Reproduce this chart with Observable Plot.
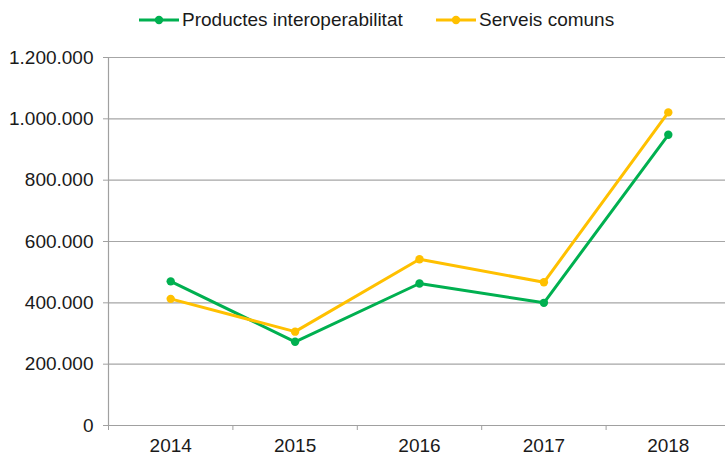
<!DOCTYPE html>
<html>
<head>
<meta charset="utf-8">
<script src="https://cdn.jsdelivr.net/npm/d3@7"></script>
<script src="https://cdn.jsdelivr.net/npm/@observablehq/plot@0.6"></script>
<style>
  html, body { margin: 0; padding: 0; background: #fff; overflow: hidden; }
  #wrap { position: relative; width: 725px; height: 454px; font-family: "Liberation Sans", Arial, sans-serif; }
  #legend { position: absolute; left: 0; top: 0; width: 725px; height: 40px; }
  .item { position: absolute; top: 9px; display: flex; align-items: center; font-size: 19px; color: #1a1a1a; white-space: nowrap; }
  .item svg { margin-right: 3px; }
  #chart { position: absolute; left: 0; top: 40px; }
</style>
</head>
<body>
<div id="wrap">
  <div id="legend"></div>
  <div id="chart"></div>
</div>
<script>
const years = [2014, 2015, 2016, 2017, 2018];
const seriesNames = ["Productes interoperabilitat", "Serveis comuns"];
const productes = [470000, 273000, 463000, 400000, 948000];
const serveis = [413000, 306000, 542000, 467000, 1021000];
const colors = ["#00B050", "#FFC000"];
const yTicks = [0, 200000, 400000, 600000, 800000, 1000000, 1200000];

const data = [];
years.forEach((yr, i) => {
  data.push({year: yr, value: productes[i], series: seriesNames[0]});
  data.push({year: yr, value: serveis[i], series: seriesNames[1]});
});
const boundaries = years.map(y => y - 0.5);

const fmt = v => d3.format(",")(v).replace(/,/g, ".");

const chart = Plot.plot({
  width: 725,
  height: 414,
  marginLeft: 108,
  marginRight: 0,
  marginTop: 17,
  marginBottom: 29,
  style: {fontFamily: "'Liberation Sans', Arial, sans-serif", fontSize: "19px", color: "#1a1a1a", background: "#fff", overflow: "visible"},
  x: {domain: [years[0] - 0.5, years[years.length - 1] + 0.5], range: [108, 730]},
  y: {domain: [0, 1200000]},
  color: {domain: seriesNames, range: colors},
  marks: [
    Plot.gridY(yTicks.filter(d => d > 0), {stroke: "#a6a6a6", strokeOpacity: 1, strokeWidth: 1.2}),
    Plot.ruleY([0], {stroke: "#a0a0a0", strokeWidth: 1.2}),
    Plot.ruleX([boundaries[0]], {stroke: "#a0a0a0", strokeWidth: 1.2}),
    Plot.axisY({ticks: yTicks, tickSize: 5, tickPadding: 10, tickFormat: fmt, stroke: "#a0a0a0", label: null, fill: "#1a1a1a"}),
    Plot.axisX({ticks: boundaries, tickSize: 5, tickFormat: () => "", stroke: "#a0a0a0", label: null}),
    Plot.axisX({ticks: years, tickSize: 0, tickPadding: 13, tickFormat: d => String(d), label: null, fill: "#1a1a1a"}),
    Plot.line(data, {x: "year", y: "value", stroke: "series", strokeWidth: 3}),
    Plot.dot(data, {x: "year", y: "value", fill: "series", r: 4.2})
  ]
});
document.getElementById("chart").appendChild(chart);

const legend = document.getElementById("legend");
const lefts = [139, 436];
seriesNames.forEach((name, i) => {
  const item = document.createElement("div");
  item.className = "item";
  item.style.left = lefts[i] + "px";
  item.innerHTML = `<svg width="40" height="20"><line x1="0" y1="10" x2="40" y2="10" stroke="${colors[i]}" stroke-width="3"/><circle cx="20" cy="10" r="4.2" fill="${colors[i]}"/></svg><span>${name}</span>`;
  legend.appendChild(item);
});
</script>
</body>
</html>
